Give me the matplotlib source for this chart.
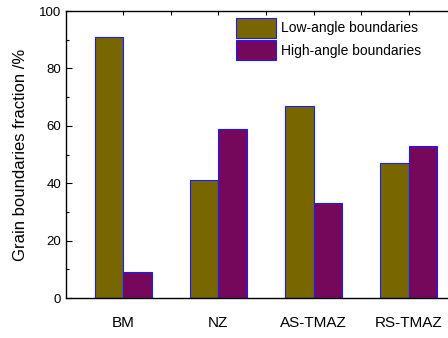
import numpy as np
import matplotlib.pyplot as plt

# Grain boundary fractions by zone
zones = ['BM', 'NZ', 'AS-TMAZ', 'RS-TMAZ']
low_angle = [91, 41, 67, 47]
high_angle = [9, 59, 33, 53]

plt.rcParams['font.family'] = ['Liberation Sans', 'DejaVu Sans']

fig = plt.figure(figsize=(4.48, 3.38), dpi=100)
ax = fig.add_axes([0.1473, 0.1183, 0.893, 0.849])

x = np.arange(len(zones))
w = 0.3
ax.bar(x - w / 2, low_angle, w, color='#786600', edgecolor='#1a1aff', linewidth=0.8,
       label='Low-angle boundaries')
ax.bar(x + w / 2, high_angle, w, color='#76085c', edgecolor='#1a1aff', linewidth=0.8,
       label='High-angle boundaries')

ax.set_xlim(-0.6, 3.6)
ax.set_ylim(0, 100)
ax.set_yticks([0, 20, 40, 60, 80, 100])
ax.set_yticks([10, 30, 50, 70, 90], minor=True)
ax.set_xticks(x)
ax.set_xticklabels(zones, fontsize=11)
ax.set_xticks(x[:-1] + 0.5, minor=True)
ax.tick_params(axis='y', which='both', direction='in', labelsize=9.5, width=0.8)
ax.tick_params(axis='y', which='major', length=4)
ax.tick_params(axis='y', which='minor', length=2.5)
ax.tick_params(axis='x', which='both', direction='in', bottom=False, top=True,
               length=3, width=0.8, pad=13)
ax.set_ylabel('Grain boundaries fraction /%', fontsize=12, labelpad=8)
for s in ax.spines.values():
    s.set_linewidth(1)

ax.legend(loc='upper left', bbox_to_anchor=(0.425, 0.976), frameon=False, fontsize=10,
          handlelength=2.9, handleheight=1.85, handletextpad=0.35, labelspacing=0.15,
          borderaxespad=0, borderpad=0)

plt.savefig('out.png', dpi=100)
